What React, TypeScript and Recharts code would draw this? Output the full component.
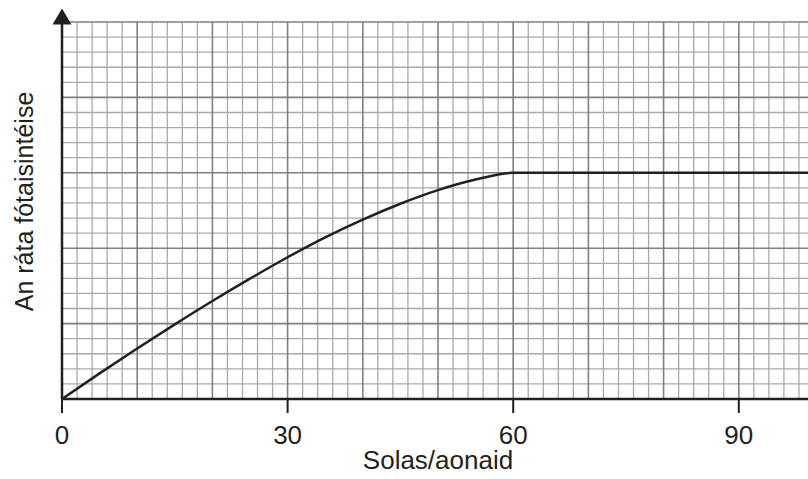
import React from "react";
import {
    LineChart,
    Line,
    XAxis,
    YAxis,
    ReferenceLine,
    ReferenceDot,
} from "recharts";

const INK = "#231f20";
const FONT = "'Liberation Sans', Arial, sans-serif";

// light (hours) vs. photosynthesis rate
const lightX = [0, 5, 10, 15, 20, 25, 30, 35, 40, 45, 50, 55, 60, 100];
const rateY = [0, 1.7, 3.35, 4.95, 6.5, 7.98, 9.4, 10.72, 11.9, 12.95, 13.85, 14.55, 15, 15];

const xTicks = [0, 30, 60, 90];
const xGrid = Array.from({ length: 51 }, (_, i) => i * 2);
const yGrid = Array.from({ length: 26 }, (_, i) => i);

const data = lightX.map((x, i) => ({ x, rate: rateY[i] }));

const Arrow = (props: any) => {
    const { cx, cy } = props;
    return (
        <polygon
            points={`${cx},${cy - 13.5} ${cx - 9.5},${cy + 2.5} ${cx + 9.5},${cy + 2.5}`}
            fill={INK}
        />
    );
};

const XTitle = (props: any) => {
    const { x, y, width } = props.viewBox;
    return (
        <text x={x + width / 2} y={y + 70} textAnchor="middle" fill={INK} fontSize={26} fontFamily={FONT}>
            Solas/aonaid
        </text>
    );
};

const YTitle = (props: any) => {
    const { y, height } = props.viewBox;
    const cx = 33;
    const cy = y + height / 2 - 9;
    return (
        <text
            x={cx}
            y={cy}
            transform={`rotate(-90 ${cx} ${cy})`}
            textAnchor="middle"
            fill={INK}
            fontSize={25}
            fontFamily={FONT}
        >
            An ráta fótaisintéise
        </text>
    );
};

const gridStyle = (major: boolean) =>
    major ? { stroke: "#808080", strokeWidth: 1.6 } : { stroke: "#a9a9a9", strokeWidth: 1.3 };

export default function App() {
    return (
        <div style={{ position: "absolute", left: 0, top: 0, width: 808, height: 479, overflow: "hidden", background: "#fff" }}>
            <LineChart width={814} height={479} data={data} margin={{ top: 22, right: 0, bottom: 0, left: 0 }}>
                <XAxis
                    type="number"
                    dataKey="x"
                    domain={[0, 100]}
                    ticks={xTicks}
                    height={80}
                    tickSize={14}
                    tickMargin={13}
                    tickLine={{ stroke: INK, strokeWidth: 2 }}
                    axisLine={{ stroke: INK, strokeWidth: 2.5 }}
                    tick={{ fill: INK, fontSize: 26, fontFamily: FONT }}
                    label={<XTitle />}
                    allowDataOverflow
                />
                <YAxis
                    type="number"
                    domain={[0, 25]}
                    width={62}
                    tick={false}
                    tickLine={false}
                    axisLine={{ stroke: INK, strokeWidth: 2.5 }}
                    label={<YTitle />}
                    allowDataOverflow
                />
                {xGrid.filter((v) => v % 10 !== 0).map((v) => (
                    <ReferenceLine key={`xm${v}`} x={v} {...gridStyle(false)} />
                ))}
                {yGrid.filter((v) => v % 5 !== 0).map((v) => (
                    <ReferenceLine key={`ym${v}`} y={v} {...gridStyle(false)} />
                ))}
                {xGrid.filter((v) => v % 10 === 0 && v > 0).map((v) => (
                    <ReferenceLine key={`xM${v}`} x={v} {...gridStyle(true)} />
                ))}
                {yGrid.filter((v) => v % 5 === 0 && v > 0).map((v) => (
                    <ReferenceLine key={`yM${v}`} y={v} {...gridStyle(true)} />
                ))}
                <Line
                    type="monotone"
                    dataKey="rate"
                    stroke={INK}
                    strokeWidth={2.5}
                    dot={false}
                    isAnimationActive={false}
                />
                <ReferenceDot x={0} y={25} ifOverflow="visible" shape={<Arrow />} />
            </LineChart>
        </div>
    );
}
